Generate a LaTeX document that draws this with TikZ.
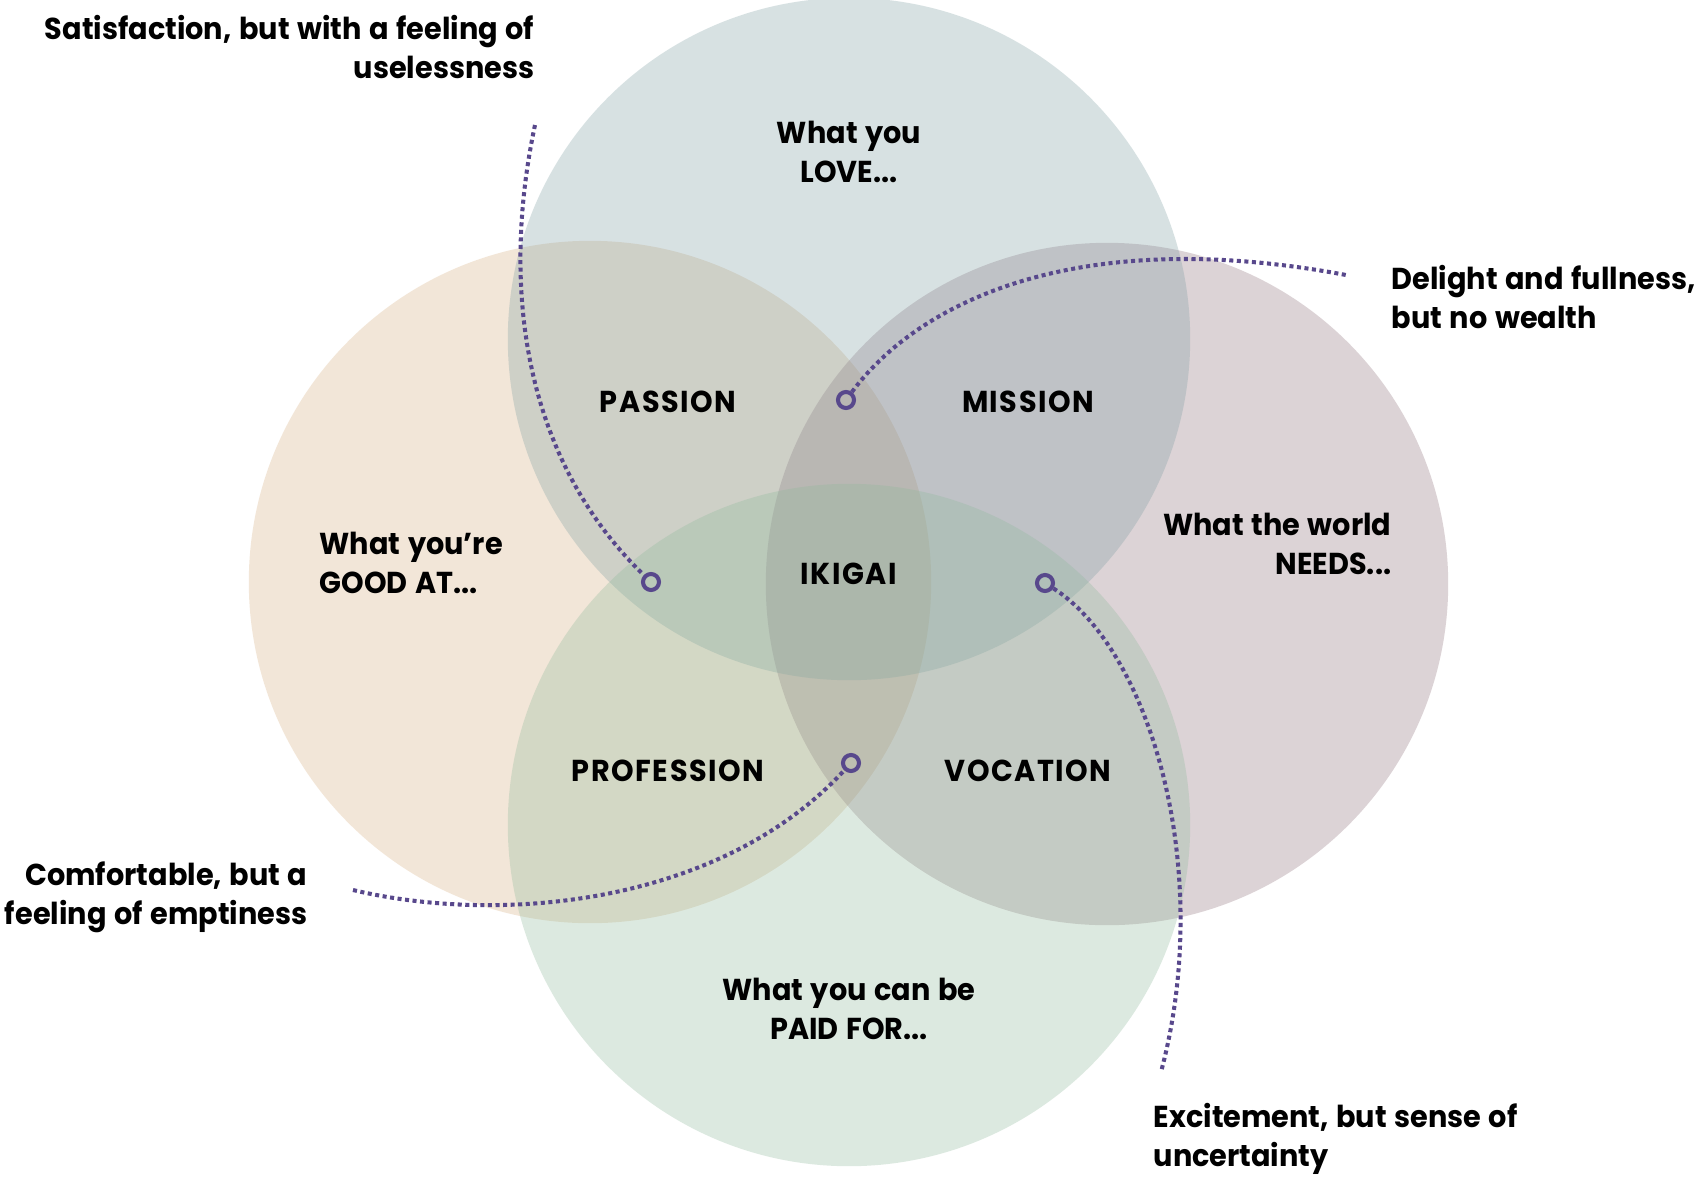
\documentclass[tikz,border=0pt]{standalone}
\usepackage{fontspec}
\setmainfont{Poppins}[FakeStretch=0.95, WordSpace=1.25]
\definecolor{cleft}{RGB}{215,175,128}
\definecolor{ctop}{RGB}{125,158,162}
\definecolor{cright}{RGB}{142,112,122}
\definecolor{cbottom}{RGB}{142,185,155}
\definecolor{dotc}{RGB}{88,72,140}
\tikzset{
  venn/.style={fill opacity=0.3, draw=none},
  lbl/.style={font=\fontsize{8.6}{11}\selectfont\bfseries, inner sep=0pt, text=black},
  caps/.style={font=\fontsize{8.6}{11}\selectfont\bfseries\addfontfeature{LetterSpace=5}, inner sep=0pt, text=black},
  ring/.style={circle, draw=dotc, line width=1.15pt, minimum size=0.16cm, inner sep=0pt},
  dotline/.style={draw=dotc, line width=1.15pt, dash pattern=on 1.15pt off 1.0pt},
}
\begin{document}
\begin{tikzpicture}[x=0.01cm,y=-0.01cm]
\useasboundingbox (0,0) rectangle (1702,1178);
\fill[white] (0,0) rectangle (1702,1178);
% circles
\fill[venn, cleft] (590,582) circle[radius=3.41cm];
\fill[venn, cright] (1107,584) circle[radius=3.41cm];
\fill[venn, ctop] (849,339) circle[radius=3.41cm];
\fill[venn, cbottom] (849,825) circle[radius=3.41cm];
% labels
\node[lbl, align=center] (love) at (849,152) {What you\\LOVE...};
\node[lbl, align=left, anchor=west] (good) at (319,563) {What you’re\\GOOD AT...};
\node[lbl, align=right, anchor=east] (needs) at (1392,544) {What the world\\NEEDS...};
\node[lbl, align=center] (paid) at (849,1009) {What you can be\\PAID FOR...};
\node[caps] (passion) at (668,402) {PASSION};
\node[caps] (mission) at (1028,402) {MISSION};
\node[caps] (ikigai) at (849,574) {IKIGAI};
\node[caps] (profession) at (668,771) {PROFESSION};
\node[caps] (vocation) at (1028,771) {VOCATION};
% annotations
\node[lbl, align=right, anchor=east] (sat) at (535,47) {Satisfaction, but with a feeling of\\uselessness};
\node[lbl, align=left, anchor=west] (del) at (1391,297) {Delight and fullness,\\but no wealth};
\node[lbl, align=right, anchor=east] (com) at (308,897) {Comfortable, but a\\feeling of emptiness};
\node[lbl, align=left, anchor=west] (exc) at (1153,1139) {Excitement, but sense of\\uncertainty};
% rings
\node[ring] (r1) at (651,582) {};
\node[ring] (r2) at (846,400) {};
\node[ring] (r3) at (851,763) {};
\node[ring] (r4) at (1045,583) {};
\coordinate (e1) at (535,125);
\coordinate (e2) at (1346,275);
\coordinate (e3) at (353,890);
\coordinate (e4) at (1161,1072);
% dotted connectors
\draw[dotline] (e1) .. controls (500,290) and (525,460) .. (r1);
\draw[dotline] (r2) .. controls (920,300) and (1080,225) .. (e2);
\draw[dotline] (e3) .. controls (500,925) and (720,905) .. (r3);
\draw[dotline] (r4) .. controls (1150,650) and (1215,870) .. (e4);
\end{tikzpicture}
\end{document}
